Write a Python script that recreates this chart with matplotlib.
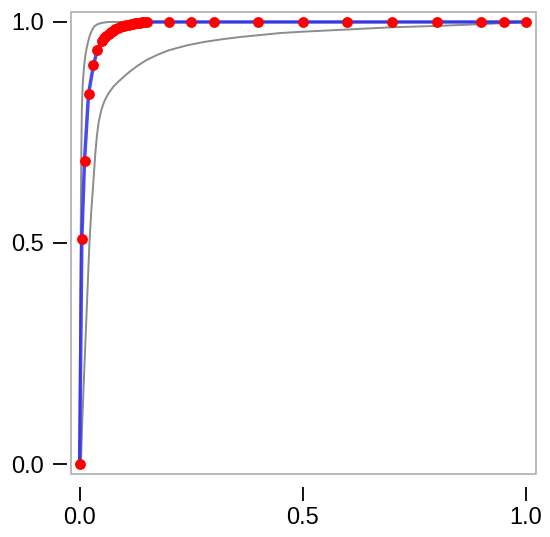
import numpy as np
import matplotlib
matplotlib.use("Agg")
import matplotlib.pyplot as plt
from matplotlib.patches import Rectangle

# ROC points (false positive rate, true positive rate)
roc_fpr = [0.0, 0.005, 0.011, 0.02, 0.031, 0.04, 0.05, 0.055, 0.06, 0.065,
           0.07, 0.075, 0.08, 0.085, 0.09, 0.095, 0.10, 0.105, 0.11, 0.115,
           0.12, 0.125, 0.13, 0.135, 0.14, 0.145, 0.15,
           0.2, 0.25, 0.3, 0.4, 0.5, 0.6, 0.7, 0.8, 0.9, 0.95, 1.0]
roc_tpr = [0.0, 0.51, 0.686, 0.837, 0.902, 0.937, 0.958, 0.964, 0.969, 0.973,
           0.977, 0.980, 0.983, 0.986, 0.988, 0.990, 0.992, 0.993, 0.994, 0.995,
           0.996, 0.997, 0.998, 0.998, 0.999, 0.999, 1.0,
           1.0, 1.0, 1.0, 1.0, 1.0, 1.0, 1.0, 1.0, 1.0, 1.0, 1.0]

# confidence band curves
upper_fpr = [0.0, 0.0005, 0.001, 0.002, 0.003, 0.004, 0.005, 0.007, 0.01, 0.013,
             0.016, 0.019, 0.023, 0.028, 0.033, 0.04, 0.05, 0.065, 1.0]
upper_tpr = [0.0, 0.15, 0.3, 0.45, 0.6, 0.72, 0.8, 0.86, 0.9, 0.925,
             0.942, 0.955, 0.97, 0.982, 0.99, 0.995, 0.998, 1.0, 1.0]

lower_fpr = [0.003, 0.006, 0.01, 0.014, 0.018, 0.022, 0.026, 0.031, 0.035, 0.039,
             0.043, 0.049, 0.056, 0.065, 0.076, 0.088, 0.1, 0.114, 0.13, 0.15,
             0.175, 0.2, 0.24, 0.28, 0.32, 0.36, 0.4, 0.45, 0.5, 0.6,
             0.7, 0.8, 0.9, 1.0]
lower_tpr = [0.0, 0.1, 0.2, 0.3, 0.4, 0.5, 0.57, 0.64, 0.70, 0.745,
             0.775, 0.802, 0.822, 0.839, 0.854, 0.866, 0.877, 0.889, 0.901, 0.914,
             0.926, 0.936, 0.947, 0.955, 0.961, 0.966, 0.970, 0.975, 0.978, 0.983,
             0.988, 0.991, 0.995, 1.0]

ticks = [0.0, 0.5, 1.0]
tick_labels = ["0.0", "0.5", "1.0"]

plt.rcParams['font.family'] = ['Liberation Sans', 'DejaVu Sans']

fig = plt.figure(figsize=(5.5, 5.37), dpi=100)
ax = fig.add_axes([0.1285, 0.1173, 0.846, 0.8604])

ax.plot(upper_fpr, upper_tpr, color="#8c8c8c", lw=1.4, zorder=2)
ax.plot(lower_fpr, lower_tpr, color="#8c8c8c", lw=1.4, zorder=2)
ax.plot(roc_fpr, roc_tpr, color="#2a2af0", lw=2.5, alpha=0.85, zorder=3)
ax.plot(roc_fpr, roc_tpr, "o", color="#ff0000", ms=7.8, mec="none", zorder=4)

ax.set_xlim(-0.02, 1.0225)
ax.set_ylim(-0.0226, 1.0226)

for s in ax.spines.values():
    s.set_visible(False)
ax.spines["left"].set_position(("outward", 3))
ax.spines["bottom"].set_position(("outward", 9.5))
ax.add_patch(Rectangle((0, 0), 1, 1, transform=ax.transAxes, fill=False,
                       edgecolor="#b4b4b4", lw=1.3, clip_on=False, zorder=5))

ax.set_xticks(ticks)
ax.set_xticklabels(tick_labels)
ax.set_yticks(ticks)
ax.set_yticklabels(tick_labels)
ax.tick_params(axis="both", direction="out", length=10, width=1.3,
               labelsize=17, colors="black")
ax.tick_params(axis="y", pad=6.5)
ax.tick_params(axis="x", pad=4)

fig.savefig("out.png", dpi=100)
